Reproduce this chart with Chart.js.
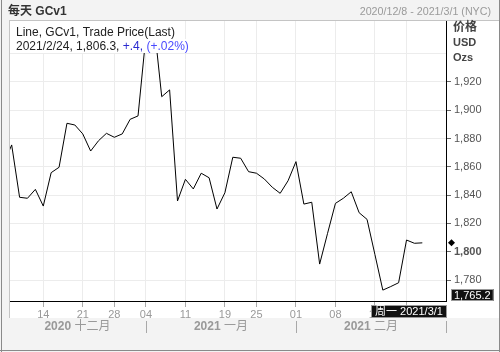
<!DOCTYPE html>
<html>
<head>
<meta charset="utf-8">
<script src="https://cdn.jsdelivr.net/npm/chart.js@4.4.1/dist/chart.umd.min.js"></script>
<style>
  body { margin: 0; background: #f3f3f3; }
  #wrap { position: relative; width: 500px; height: 352px; overflow: hidden; }
  canvas { position: absolute; left: 0; top: 0; }
</style>
</head>
<body>
<div id="wrap"><canvas id="grafico" width="500" height="352"></canvas></div>
<script>
// dias de negociação (índice = posição no eixo x)
const datas = [
  "2020/12/7", "2020/12/8", "2020/12/9", "2020/12/10", "2020/12/11",
  "2020/12/14", "2020/12/15", "2020/12/16", "2020/12/17", "2020/12/18",
  "2020/12/21", "2020/12/22", "2020/12/23", "2020/12/24",
  "2020/12/28", "2020/12/29", "2020/12/30", "2020/12/31",
  "2021/1/4", "2021/1/5", "2021/1/6", "2021/1/7", "2021/1/8",
  "2021/1/11", "2021/1/12", "2021/1/13", "2021/1/14", "2021/1/15",
  "2021/1/19", "2021/1/20", "2021/1/21", "2021/1/22",
  "2021/1/25", "2021/1/26", "2021/1/27", "2021/1/28", "2021/1/29",
  "2021/2/1", "2021/2/2", "2021/2/3", "2021/2/4", "2021/2/5",
  "2021/2/8", "2021/2/9", "2021/2/10", "2021/2/11", "2021/2/12",
  "2021/2/16", "2021/2/17", "2021/2/18", "2021/2/19",
  "2021/2/22", "2021/2/23", "2021/2/24"
];
const precos = [
  1862.3, 1875.5, 1838.5, 1837.8, 1844.1,
  1832.3, 1855.9, 1859.7, 1890.8, 1889.6,
  1883.3, 1871.2, 1878.5, 1883.7,
  1880.9, 1883.3, 1893.6, 1896.0,
  1952.6, 1962.5, 1909.6, 1914.4, 1835.9,
  1851.2, 1844.4, 1855.5, 1852.3, 1830.2,
  1841.7, 1866.8, 1866.1, 1856.6,
  1855.5, 1851.4, 1845.6, 1841.3, 1850.2,
  1863.7, 1833.7, 1835.0, 1791.3, 1813.0,
  1834.2, 1837.8, 1842.4, 1827.6, 1822.9,
  1798.0, 1772.9, 1775.4, 1778.1,
  1808.3, 1806.0, 1806.3
];

// ticks semanais
const semanaIdx = [5, 10, 14, 18, 23, 28, 32, 37, 42, 47, 51];
const semanaLabels = ["14", "21", "28", "04", "11", "19", "25", "01", "08", "16", "22"];

// meses
const mesInicio = [18, 37, 56];
const mesAno = ["2020", "2021", "2021"];
const mesNome = ["十二月", "一月", "二月"];

const yTicks = [1780, 1800, 1820, 1840, 1860, 1880, 1900, 1920, 1940];
const yMin = 1765.2;
const yMax = 1963.8;
const xMin = 0.66;
const xMax = 56;

const fonte = "'Liberation Sans', 'Noto Sans CJK SC', sans-serif";

function formatarNumero(v) {
  return String(v).replace(/\B(?=(\d{3})+(?!\d))/g, ",");
}

const extras = {
  id: "extras",
  beforeDraw(chart) {
    const ctx = chart.ctx;
    ctx.save();
    ctx.fillStyle = "#ffffff";
    ctx.fillRect(9, 20, 491, 298);
    ctx.restore();
  },
  afterDraw(chart) {
    const ctx = chart.ctx;
    const xs = chart.scales.x;
    const ys = chart.scales.y;
    ctx.save();

    // bordas
    ctx.strokeStyle = "#c4c4c4";
    ctx.lineWidth = 1;
    ctx.beginPath();
    ctx.moveTo(9, 20.5); ctx.lineTo(500, 20.5);
    ctx.moveTo(9.5, 20); ctx.lineTo(9.5, 318);
    ctx.stroke();
    ctx.strokeStyle = "#8a8a8a";
    ctx.beginPath();
    ctx.moveTo(1.5, 0); ctx.lineTo(1.5, 352);
    ctx.moveTo(0, 350.5); ctx.lineTo(500, 350.5);
    ctx.moveTo(499.5, 0); ctx.lineTo(499.5, 352);
    ctx.stroke();

    // cabeçalho
    ctx.textBaseline = "middle";
    ctx.fillStyle = "#333";
    ctx.font = "bold 12px " + fonte;
    ctx.textAlign = "left";
    ctx.fillText("每天 GCv1", 8, 12);
    ctx.fillStyle = "#9a9a9a";
    ctx.font = "10.7px " + fonte;
    ctx.textAlign = "right";
    ctx.fillText("2020/12/8 - 2021/3/1 (NYC)", 491, 12);

    // legenda
    ctx.textAlign = "left";
    ctx.font = "12px " + fonte;
    const l1 = "Line, GCv1, Trade Price(Last)";
    const partes = [
      ["2021/2/24, 1,806.3, ", "#222"],
      ["+.4, ", "#2a2ad0"],
      ["(+.02%)", "#4a4aff"]
    ];
    let w2 = 0;
    partes.forEach(p => { w2 += ctx.measureText(p[0]).width; });
    const w1 = ctx.measureText(l1).width;
    ctx.fillStyle = "#ffffff";
    ctx.fillRect(14, 21, w1 + 4, 18);
    ctx.fillRect(14, 39, w2 + 4, 14);
    ctx.fillStyle = "#222";
    ctx.fillText(l1, 16, 33);
    let px = 16;
    partes.forEach(p => {
      ctx.fillStyle = p[1];
      ctx.fillText(p[0], px, 47);
      px += ctx.measureText(p[0]).width;
    });

    // título do eixo y
    ctx.fillStyle = "#444";
    ctx.font = "bold 12px " + fonte;
    ctx.fillText("价格", 453, 28);
    ctx.font = "bold 11px " + fonte;
    ctx.fillText("USD", 453, 43);
    ctx.fillText("Ozs", 453, 58);

    // último valor (losango)
    const ultimo = precos[precos.length - 1];
    const yl = ys.getPixelForValue(ultimo);
    ctx.fillStyle = "#000";
    ctx.beginPath();
    ctx.moveTo(451.5, yl - 3.5);
    ctx.lineTo(455, yl);
    ctx.lineTo(451.5, yl + 3.5);
    ctx.lineTo(448, yl);
    ctx.closePath();
    ctx.fill();

    // caixa valor mínimo
    ctx.font = "11px " + fonte;
    const tMin = formatarNumero(yMin.toFixed(1));
    const wMin = ctx.measureText(tMin).width + 6;
    const yb = ys.getPixelForValue(yMin);
    ctx.fillStyle = "#111";
    ctx.fillRect(451, yb - 12, wMin, 12);
    ctx.strokeStyle = "#999";
    ctx.strokeRect(451.5, yb - 11.5, wMin - 1, 11);
    ctx.fillStyle = "#fff";
    ctx.fillText(tMin, 454, yb - 5.5);

    // meses
    ctx.strokeStyle = "#a8a8a8";
    ctx.beginPath();
    mesInicio.forEach(i => {
      const x = Math.round(xs.getPixelForValue(i)) + 0.5;
      ctx.moveTo(x, 321); ctx.lineTo(x, 333);
    });
    ctx.stroke();
    ctx.fillStyle = "#999";
    mesInicio.forEach((fim, k) => {
      const ini = k === 0 ? xMin : mesInicio[k - 1];
      const cx = (xs.getPixelForValue(ini) + xs.getPixelForValue(fim)) / 2;
      ctx.font = "bold 12px " + fonte;
      const wa = ctx.measureText(mesAno[k]).width;
      ctx.font = "12px " + fonte;
      const wn = ctx.measureText(" " + mesNome[k]).width;
      const x0 = cx - (wa + wn) / 2;
      ctx.font = "bold 12px " + fonte;
      ctx.fillText(mesAno[k], x0, 327);
      ctx.font = "12px " + fonte;
      ctx.fillText(" " + mesNome[k], x0 + wa, 327);
    });

    // caixa data atual
    ctx.font = "11px " + fonte;
    const tData = "周一 2021/3/1";
    const xr = xs.getPixelForValue(xMax) + 1;
    const xl = 371;
    ctx.fillStyle = "#111";
    ctx.fillRect(xl, 305, xr - xl, 13);
    ctx.strokeStyle = "#999";
    ctx.strokeRect(xl + 0.5, 305.5, xr - xl - 1, 12);
    ctx.fillStyle = "#fff";
    ctx.textAlign = "center";
    ctx.fillText(tData, (xl + xr) / 2, 311.5);

    ctx.restore();
  }
};

new Chart(document.getElementById("grafico"), {
  type: "line",
  data: {
    datasets: [{
      label: "GCv1",
      data: precos.map((p, i) => ({ x: i, y: p })),
      borderColor: "#000",
      borderWidth: 1,
      pointRadius: 0,
      tension: 0,
      fill: false
    }]
  },
  options: {
    responsive: false,
    animation: false,
    layout: { padding: { left: 9, top: 20, right: 0, bottom: 0 } },
    plugins: { legend: { display: false }, tooltip: { enabled: false } },
    scales: {
      x: {
        type: "linear",
        min: xMin,
        max: xMax,
        afterBuildTicks: s => { s.ticks = semanaIdx.map(v => ({ value: v })); },
        afterFit: s => { s.height = 51; },
        ticks: {
          autoSkip: false,
          maxRotation: 0,
          padding: 1,
          color: "#999",
          font: { family: fonte, size: 11 },
          callback: (v, i) => semanaLabels[i]
        },
        grid: { color: "#ececec", tickColor: "#aaa", tickLength: 6 },
        border: { color: "#000", width: 1 }
      },
      y: {
        position: "right",
        min: yMin,
        max: yMax,
        afterBuildTicks: s => { s.ticks = yTicks.map(v => ({ value: v })); },
        afterFit: s => { s.width = 54; },
        ticks: {
          padding: 3,
          color: "#555",
          font: c => ({ family: fonte, size: 11, weight: c.tick && c.tick.value === 1800 ? "bold" : "normal" }),
          callback: v => (v > 1920 ? "" : formatarNumero(v))
        },
        grid: {
          color: "#ececec",
          tickColor: c => (c.tick && c.tick.value > 1920 ? "rgba(0,0,0,0)" : "#666"),
          tickLength: 5
        },
        border: { color: "#000", width: 1 }
      }
    }
  },
  plugins: [extras]
});
</script>
</body>
</html>
